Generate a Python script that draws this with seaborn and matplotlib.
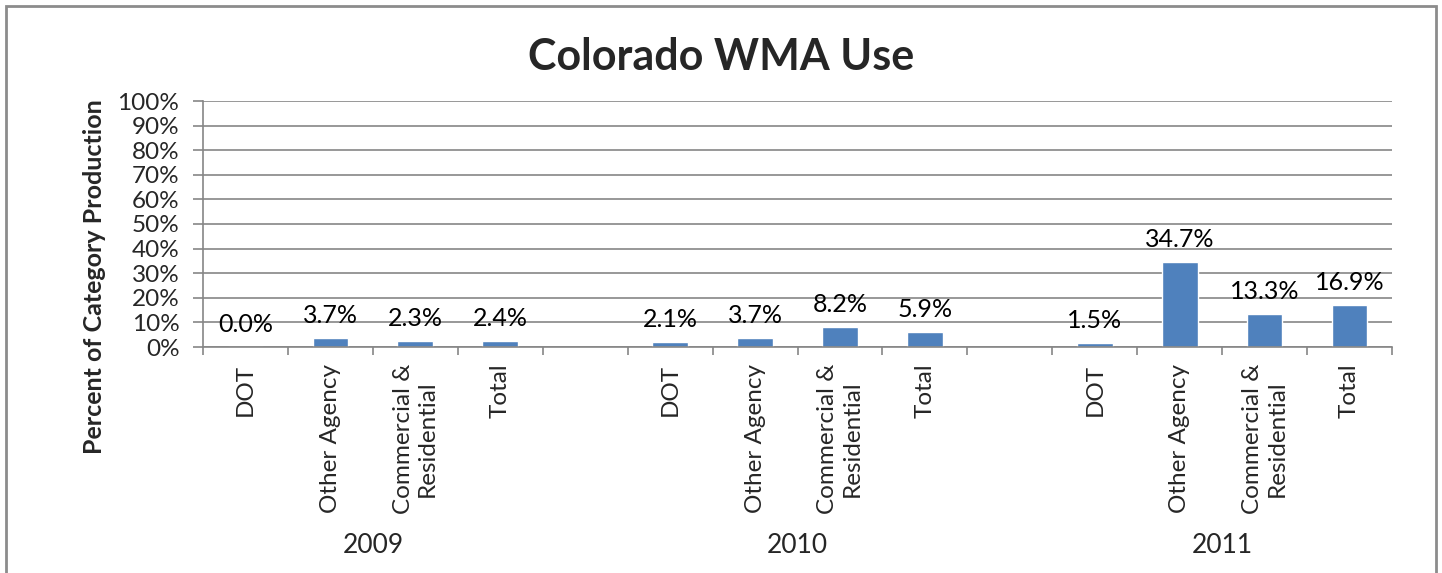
import matplotlib
matplotlib.use("Agg")
import matplotlib.pyplot as plt
import matplotlib.ticker as mticker
from matplotlib.patches import Rectangle
import pandas as pd
import seaborn as sns

# ─── data ────────────────────────────────────────────────────────────────────
YEARS = ["2009", "2010", "2011"]
CATEGORIES = ["DOT", "Other Agency", "Commercial &\nResidential", "Total"]
VALUES_2009 = [0.0, 3.7, 2.3, 2.4]
VALUES_2010 = [2.1, 3.7, 8.2, 5.9]
VALUES_2011 = [1.5, 34.7, 13.3, 16.9]

BAR_COLOR = "#4F81BD"
GRID_COLOR = "#868686"

sns.set_theme(style="white")
plt.rcParams["font.family"] = ["Lato", "DejaVu Sans"]

# long table; blank slots between years are left out of the data but kept in `order`
rows = []
for year, vals in zip(YEARS, [VALUES_2009, VALUES_2010, VALUES_2011]):
    for cat, v in zip(CATEGORIES, vals):
        rows.append({"slot": f"{year}|{cat}", "year": year, "category": cat, "pct": v})
df = pd.DataFrame(rows)

order = []
for i, year in enumerate(YEARS):
    order += [f"{year}|{c}" for c in CATEGORIES]
    if i < len(YEARS) - 1:
        order.append(f"gap{i}")

fig = plt.figure(figsize=(14.42, 5.73), dpi=100)
ax = fig.add_axes([203 / 1442, 1 - 347 / 573, (1392 - 203) / 1442, (347 - 101) / 573])

sns.barplot(data=df, x="slot", y="pct", order=order, color=BAR_COLOR,
            width=0.42, saturation=1, errorbar=None, ax=ax)

for c in ax.containers:
    ax.bar_label(c, labels=[f"{v:.1f}%" for v in c.datavalues],
                 padding=8, fontsize=18, color="black")

ax.set_ylim(0, 100)
ax.set_xlim(-0.5, len(order) - 0.5)
ax.yaxis.set_major_locator(mticker.MultipleLocator(10))
ax.yaxis.set_major_formatter(mticker.FuncFormatter(lambda v, _: f"{v:.0f}%"))
ax.grid(axis="y", color=GRID_COLOR, linewidth=1.2)
ax.set_axisbelow(True)

# category labels at slot centers, tick marks at slot boundaries
labels = [s.split("|")[1] if "|" in s else "" for s in order]
ax.set_xticks(range(len(order)))
ax.set_xticklabels(labels, rotation=90, fontsize=17.5, va="top", ha="center",
                   multialignment="center")
ax.set_xticks([i - 0.5 for i in range(len(order) + 1)], minor=True)
ax.tick_params(axis="x", which="major", length=0, pad=12)
ax.tick_params(axis="x", which="minor", length=6, width=1.2, color=GRID_COLOR,
               direction="out", bottom=True)
ax.tick_params(axis="y", length=7, width=1.2, color=GRID_COLOR, direction="out",
               left=True, labelsize=17.5, pad=10)

for side in ["top", "right"]:
    ax.spines[side].set_visible(False)
for side in ["left", "bottom"]:
    ax.spines[side].set_color(GRID_COLOR)
    ax.spines[side].set_linewidth(1.2)

ax.set_xlabel("")
ax.set_ylabel("Percent of Category Production", fontsize=18, fontweight="bold")
ax.yaxis.set_label_coords(-0.082, 0.285)

# year labels under each group of four
for i, year in enumerate(YEARS):
    center = i * (len(CATEGORIES) + 1) + (len(CATEGORIES) - 1) / 2
    ax.text(center, -0.805, year, transform=ax.get_xaxis_transform(),
            ha="center", va="center", fontsize=19)

fig.text(0.5, 1 - 57 / 573, "Colorado WMA Use", ha="center", va="center",
         fontsize=31, fontweight="bold")

# chart frame (Excel chart area border)
fig.patches.append(Rectangle((6 / 1442, -0.02), (1436 - 6) / 1442, 1.02 - 6 / 573,
                             transform=fig.transFigure, fill=False,
                             edgecolor="#8c8c8c", linewidth=2))

fig.savefig("out.png", dpi=100)
